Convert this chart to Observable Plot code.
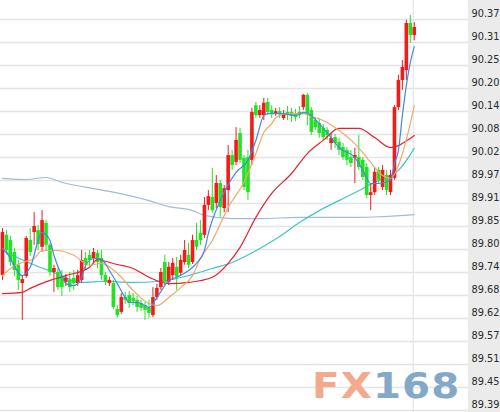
<!DOCTYPE html>
<html>
<head>
<meta charset="utf-8">
<script src="https://cdn.jsdelivr.net/npm/d3@7"></script>
<script src="https://cdn.jsdelivr.net/npm/@observablehq/plot@0.6"></script>
<style>
  html, body { margin: 0; padding: 0; background: #fff; }
  #wrap { position: relative; width: 500px; height: 412px; overflow: hidden; }
  #wm { position: absolute; left: 312px; top: 368px; font-family: "DejaVu Sans", sans-serif; font-weight: bold;
        font-size: 36px; line-height: 1; letter-spacing: 1px; white-space: nowrap; pointer-events: none;
        transform: scaleX(1.12); transform-origin: 0 0; }
  #wm .a { color: #f3a98c; }
  #wm .b { color: #84a8c7; }
</style>
</head>
<body>
<div id="wrap"><div id="chart"></div><div id="wm"><span class="a">FX</span><span class="b">168</span></div></div>
<script>
// ---- price axis ----
const yMin = 89.39, yMax = 90.37;
const tickLabels = ["89.39","89.45","89.51","89.57","89.62","89.68","89.74","89.80","89.85",
                    "89.91","89.97","90.02","90.08","90.14","90.20","90.25","90.31","90.37"];
const vLine = [103.75];

// ---- candles (index 0..104) ----
const candleOpen = [
89.728,89.829,89.816,89.786,89.754,89.708,89.726,89.816,89.836,89.841,
89.799,89.859,89.804,89.736,89.736,89.726,89.711,89.716,89.721,89.708,
89.716,89.771,89.779,89.771,89.784,89.771,89.728,89.708,89.708,89.643,
89.636,89.673,89.678,89.671,89.666,89.658,89.653,89.646,89.628,89.673,
89.698,89.761,89.711,89.728,89.749,89.734,89.761,89.779,89.761,89.816,
89.834,89.829,89.904,89.924,89.909,89.959,89.896,89.941,90.029,90.012,
90.084,90.022,90.024,90.017,90.154,90.129,90.129,90.162,90.142,90.132,
90.139,90.122,90.137,90.137,90.134,90.137,90.149,90.180,90.142,90.117,
90.109,90.097,90.092,90.059,90.074,90.062,90.049,90.042,90.024,90.022,
90.024,90.017,89.999,89.929,89.936,89.992,89.949,89.979,89.936,89.972,
90.149,90.217,90.242,90.360,90.330];
const candleHigh = [
89.846,89.841,89.826,89.796,89.766,89.726,89.826,89.846,89.886,89.854,
89.891,89.866,89.809,89.754,89.746,89.741,89.731,89.736,89.741,89.741,
89.791,89.786,89.791,89.796,89.791,89.791,89.736,89.724,89.716,89.653,
89.683,89.686,89.688,89.683,89.676,89.666,89.661,89.666,89.698,89.706,
89.746,89.779,89.761,89.771,89.774,89.779,89.816,89.809,89.829,89.859,
89.866,89.924,89.941,89.997,89.979,89.967,89.954,90.054,90.042,90.099,
90.097,90.029,90.042,90.147,90.162,90.154,90.172,90.172,90.154,90.147,
90.149,90.142,90.152,90.147,90.144,90.152,90.182,90.185,90.149,90.124,
90.122,90.107,90.099,90.084,90.082,90.072,90.059,90.049,90.042,90.047,
90.079,90.024,90.009,89.959,89.999,89.999,90.004,89.992,89.992,90.154,
90.230,90.267,90.368,90.380,90.362];
const candleLow = [
89.716,89.779,89.751,89.726,89.691,89.616,89.721,89.776,89.804,89.791,
89.786,89.791,89.726,89.686,89.691,89.676,89.701,89.686,89.691,89.701,
89.708,89.741,89.751,89.761,89.746,89.716,89.703,89.701,89.643,89.621,
89.631,89.656,89.646,89.653,89.636,89.638,89.616,89.621,89.623,89.666,
89.691,89.703,89.703,89.716,89.691,89.726,89.754,89.746,89.756,89.791,
89.804,89.821,89.891,89.884,89.896,89.874,89.886,89.886,89.992,90.004,
90.009,89.941,89.916,90.004,90.122,90.122,90.117,90.129,90.122,90.127,
90.122,90.117,90.117,90.112,90.114,90.122,90.142,90.104,90.079,90.092,
90.072,90.067,90.067,90.042,90.047,90.029,90.017,90.004,89.999,89.959,
89.992,89.967,89.921,89.891,89.929,89.959,89.941,89.929,89.929,89.967,
90.142,90.192,90.217,90.310,90.317];
const candleClose = [
89.836,89.791,89.761,89.741,89.716,89.718,89.821,89.786,89.851,89.806,
89.866,89.804,89.736,89.746,89.698,89.698,89.721,89.698,89.708,89.728,
89.766,89.754,89.766,89.786,89.761,89.728,89.711,89.716,89.648,89.628,
89.673,89.666,89.658,89.663,89.648,89.646,89.641,89.633,89.673,89.696,
89.736,89.711,89.749,89.759,89.724,89.766,89.791,89.754,89.816,89.799,
89.816,89.904,89.926,89.891,89.959,89.899,89.946,90.029,90.004,90.067,
90.017,89.949,89.936,90.137,90.129,90.142,90.160,90.137,90.134,90.139,
90.132,90.134,90.129,90.127,90.124,90.129,90.180,90.134,90.087,90.099,
90.084,90.074,90.079,90.072,90.059,90.042,90.024,90.017,90.009,90.029,
89.999,89.974,89.929,89.936,89.987,89.967,89.992,89.941,89.979,90.149,
90.217,90.250,90.360,90.330,90.350];

const ma5Idx = [0,1,5,7,10,12,13,15,16,18,20,21,23,25,27,29,31,32,34,36,37,39,41,42,44,47,49,51,52,55,59,62,64,66,67,71,74,76,78,80,83,85,89,91,93,95,98,99,100,101,102,103,104];
const ma5Val = [89.796,89.786,89.728,89.749,89.836,89.816,89.779,89.728,89.708,89.703,89.724,89.754,89.771,89.769,89.741,89.708,89.673,89.661,89.661,89.653,89.648,89.673,89.703,89.716,89.724,89.741,89.759,89.791,89.834,89.916,89.987,90.017,90.067,90.129,90.134,90.134,90.129,90.137,90.129,90.109,90.074,90.049,90.024,89.992,89.959,89.959,89.967,90.009,90.042,90.129,90.205,90.262,90.302];
const ma10Idx = [0,2,5,8,10,14,18,22,25,29,33,37,39,42,45,48,50,53,57,61,64,66,68,69,72,76,78,81,85,89,92,94,96,98,100,101,103,104];
const ma10Val = [89.728,89.746,89.761,89.771,89.791,89.791,89.779,89.754,89.759,89.734,89.691,89.658,89.653,89.673,89.698,89.728,89.771,89.816,89.899,89.962,90.034,90.087,90.109,90.124,90.134,90.134,90.127,90.117,90.092,90.059,90.024,89.999,89.979,89.972,90.004,90.034,90.109,90.154];
const ma30Idx = [0,5,7,12,16,22,24,26,29,33,37,42,47,53,57,60,64,68,73,77,81,85,90,94,98,100,103,104];
const ma30Val = [89.683,89.686,89.696,89.716,89.728,89.749,89.769,89.764,89.756,89.746,89.724,89.708,89.711,89.724,89.759,89.799,89.874,89.934,89.984,90.034,90.067,90.097,90.097,90.074,90.049,90.054,90.072,90.079];
const ma60Idx = [0,7,13,20,26,32,40,48,53,58,65,70,75,80,85,90,94,97,100,104];
const ma60Val = [89.791,89.759,89.736,89.711,89.714,89.711,89.714,89.731,89.746,89.761,89.796,89.826,89.861,89.891,89.916,89.941,89.962,89.974,89.992,90.047];
const ma120Idx = [0,6,11,15,23,27,37,42,48,51,58,65,75,83,90,96,104];
const ma120Val = [89.972,89.969,89.974,89.962,89.946,89.939,89.916,89.901,89.891,89.879,89.871,89.871,89.874,89.874,89.874,89.876,89.881];

// ---- build ----
const upColor = "#f31a1a", downColor = "#22e322";
const idx = candleOpen.map((_, i) => i);
const tickValues = tickLabels.map((_, k) => yMin + k * (yMax - yMin) / (tickLabels.length - 1));
const col = i => candleClose[i] >= candleOpen[i] ? upColor : downColor;
const maLine = (ix, val, stroke) => Plot.line(val, {x: (d, k) => ix[k], y: d => d, stroke, strokeWidth: 1.2, curve: "monotone-x"});

const chart = Plot.plot({
  width: 500, height: 412,
  marginLeft: 0, marginRight: 32, marginTop: 19, marginBottom: 2,
  x: {domain: [-0.5, 117.7], axis: null},
  y: {domain: [yMin, yMax], axis: null},
  color: {type: "identity"},
  style: {background: "linear-gradient(90deg, #ffffff 468px, #ebebeb 468px)", overflow: "visible"},
  marks: [
    Plot.gridY(tickValues, {stroke: "#e4e4e4", strokeOpacity: 1, strokeWidth: 1.5}),
    Plot.ruleX(vLine, {x: d => d, stroke: "#e2e2e2", insetTop: -19, insetBottom: -2}),
    maLine(ma120Idx, ma120Val, "#9fbcd8"),
    maLine(ma60Idx, ma60Val, "#3cc6cc"),
    Plot.ruleX(idx, {x: i => i, y1: i => candleLow[i], y2: i => candleHigh[i], stroke: col, strokeWidth: 1}),
    Plot.ruleX(idx, {x: i => i, y1: i => candleOpen[i], y2: i => candleClose[i], stroke: col, strokeWidth: 3.6}),
    maLine(ma30Idx, ma30Val, "#e8202c"),
    maLine(ma10Idx, ma10Val, "#f0a86c"),
    maLine(ma5Idx, ma5Val, "#3f8ae6"),
    Plot.text(tickValues, {y: d => d, text: (d, k) => tickLabels[k], frameAnchor: "right", textAnchor: "start",
      dx: 3, dy: -6, fill: "#2a2a2a", fontSize: 9.8, fontFamily: "DejaVu Sans, sans-serif"})
  ]
});
document.getElementById("chart").appendChild(chart);
</script>
</body>
</html>
